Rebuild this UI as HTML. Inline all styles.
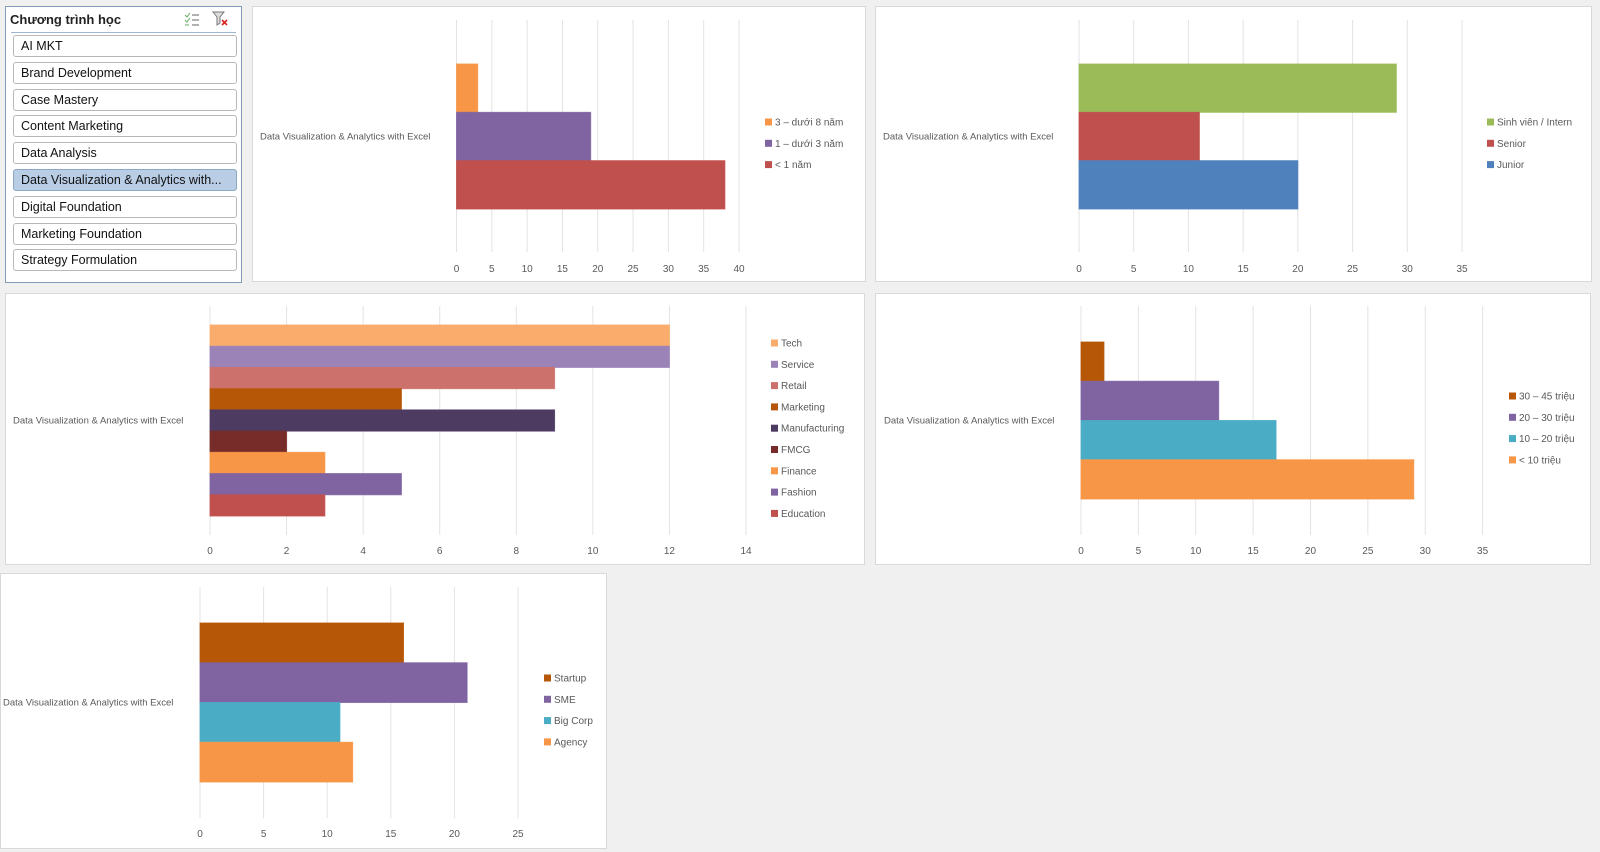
<!DOCTYPE html>
<html><head><meta charset="utf-8"><style>
body{margin:0;width:1600px;height:852px;background:#f0f0f0;position:relative;overflow:hidden;font-family:"Liberation Sans",sans-serif}
#slicer{position:absolute;left:5px;top:6px;width:235px;height:275px;background:#fff;border:1px solid #7f9db9}
#slicer .hd{position:absolute;left:4px;top:5px;font-size:13px;font-weight:bold;color:#222}
#slicer .sep{position:absolute;left:5px;right:5px;top:25px;border-top:1px solid #9fb6d3}
.item{position:absolute;left:7px;width:215px;height:20px;border:1px solid #b8b8b8;border-radius:3px;background:#fff;font-size:12.5px;line-height:20px;padding-left:7px;box-sizing:content-box;color:#111;white-space:nowrap;overflow:hidden}
.item.sel{background:#b9cde5;border-color:#8ea7c7}
svg{position:absolute;left:0;top:0}
</style></head><body>
<div id="slicer">
<div class="hd">Chương trình học</div>
<svg style="left:178px;top:5px" width="16" height="14"><path d="M1 3l2 2 3-4M1 8l2 2 3-4M1 13h4" stroke="#6a6" fill="none"/><path d="M8 3h7M8 8h7M8 13h7" stroke="#666"/></svg>
<svg style="left:206px;top:4px" width="16" height="16"><path d="M1 1h11l-4 5v6l-3 2v-8z" fill="#ddd" stroke="#777"/><path d="M10 9l5 5M15 9l-5 5" stroke="#d22" stroke-width="1.6"/></svg>
<div class="sep"></div>
<div class="item" style="top:28px">AI MKT</div>
<div class="item" style="top:55px">Brand Development</div>
<div class="item" style="top:82px">Case Mastery</div>
<div class="item" style="top:108px">Content Marketing</div>
<div class="item" style="top:135px">Data Analysis</div>
<div class="item sel" style="top:162px">Data Visualization &amp; Analytics with...</div>
<div class="item" style="top:189px">Digital Foundation</div>
<div class="item" style="top:216px">Marketing Foundation</div>
<div class="item" style="top:242px">Strategy Formulation</div>
</div>
<svg id="cv" width="1600" height="852" style="pointer-events:none"></svg>
<script>
// Chart 1: experience
const c1Series = ["3 – dưới 8 năm","1 – dưới 3 năm","< 1 năm"];
const c1Values = [3,19,38];
const c1Ticks = [0,5,10,15,20,25,30,35,40];
// Chart 2: level
const c2Series = ["Sinh viên / Intern","Senior","Junior"];
const c2Values = [29,11,20];
const c2Ticks = [0,5,10,15,20,25,30,35];
// Chart 3: industry
const c3Series = ["Tech","Service","Retail","Marketing","Manufacturing","FMCG","Finance","Fashion","Education"];
const c3Values = [12,12,9,5,9,2,3,5,3];
const c3Ticks = [0,2,4,6,8,10,12,14];
// Chart 4: salary
const c4Series = ["30 – 45 triệu","20 – 30 triệu","10 – 20 triệu","< 10 triệu"];
const c4Values = [2,12,17,29];
const c4Ticks = [0,5,10,15,20,25,30,35];
// Chart 5: company type
const c5Series = ["Startup","SME","Big Corp","Agency"];
const c5Values = [16,21,11,12];
const c5Ticks = [0,5,10,15,20,25];
const category = "Data Visualization & Analytics with Excel";

const NS="http://www.w3.org/2000/svg";
const cv=document.getElementById('cv');
function mk(tag,attrs,parent){const e=document.createElementNS(NS,tag);for(const k in attrs)e.setAttribute(k,attrs[k]);(parent||cv).appendChild(e);return e;}

function chart(id,L,series,values,ticks,colors){
  const g=mk('g',{});
  
  
  const panel=mk('rect',{x:L.px,y:L.py,width:L.pw,height:L.ph,fill:'#fff',stroke:'#d9d9d9'},g);
  
  
  const tmax=ticks[ticks.length-1];
  const xs=v=>L.x0+(v/tmax)*(L.x1-L.x0);
  ticks.forEach(t=>{
    const gl=mk('line',{x1:xs(t),x2:xs(t),y1:L.gt,y2:L.gb,stroke:'#e3e3e3'},g);
    
    
    const tl=mk('text',{x:xs(t),y:L.ty,'text-anchor':'middle','font-size':10,fill:'#595959'},g);
    tl.textContent=t;
    
    
  });
  const bh=(L.bb-L.bt)/values.length;
  values.forEach((v,i)=>{
    const r=mk('rect',{x:xs(0),y:L.bt+i*bh,width:xs(v)-xs(0),height:bh,fill:colors[i],stroke:colors[i],'stroke-opacity':0.8},g);
    
    
    const m=mk('rect',{x:L.lx,y:L.ly+i*21.3-3.5,width:7,height:7,fill:colors[i]},g);
    
    
    const lt=mk('text',{x:L.lx+10,y:L.ly+i*21.3+3.5,'font-size':10,fill:'#595959'},g);
    lt.textContent=series[i];
    
    
  });
  const cl=mk('text',{x:L.cx,y:L.cy+3.5,'font-size':9.5,fill:'#595959'},g);
  cl.textContent=category;
  
  
}
chart('experience-chart',{px:252.5,py:6.5,pw:613,ph:275,x0:456.5,x1:739,gt:20,gb:252,ty:272,bt:64,bb:209,lx:765,ly:122,cx:260,cy:136},c1Series,c1Values,c1Ticks,['#f79646','#8064a2','#c0504d']);
chart('level-chart',{px:875.5,py:6.5,pw:716,ph:275,x0:1079,x1:1462,gt:20,gb:252,ty:272,bt:64,bb:209,lx:1487,ly:122,cx:883,cy:136},c2Series,c2Values,c2Ticks,['#9bbb59','#c0504d','#4f81bd']);
chart('industry-chart',{px:5.5,py:293.5,pw:859,ph:271,x0:210,x1:746,gt:306,gb:535,ty:554,bt:325,bb:516,lx:771,ly:343,cx:13,cy:420},c3Series,c3Values,c3Ticks,['#f9ac6b','#9b83b8','#cd716c','#b65708','#4e3b62','#772c2a','#f79646','#8064a2','#c0504d']);
chart('salary-chart',{px:875.5,py:293.5,pw:715,ph:271,x0:1081,x1:1482.6,gt:306,gb:535,ty:554,bt:342,bb:499,lx:1509,ly:396,cx:884,cy:420},c4Series,c4Values,c4Ticks,['#b65708','#8064a2','#4bacc6','#f79646']);
chart('company-chart',{px:0.5,py:573.5,pw:606,ph:275,x0:200,x1:518,gt:587,gb:818,ty:837,bt:623,bb:782,lx:544,ly:678,cx:3,cy:702},c5Series,c5Values,c5Ticks,['#b65708','#8064a2','#4bacc6','#f79646']);
</script>
</body></html>
